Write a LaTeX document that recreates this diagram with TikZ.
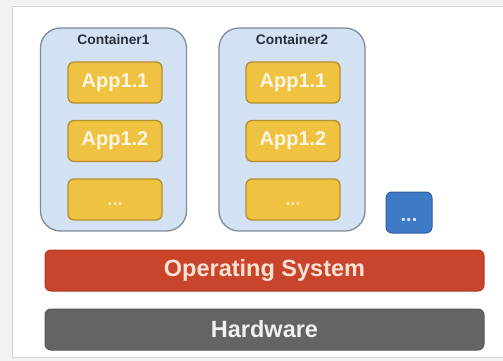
\documentclass[tikz,border=0pt]{standalone}
\usepackage{fontspec}
\setmainfont{Liberation Sans}
\definecolor{bgout}{HTML}{F2F2F2}
\definecolor{frameline}{HTML}{D4D4D4}
\definecolor{contfill}{HTML}{D3E2F3}
\definecolor{contline}{HTML}{7E8C9B}
\definecolor{conttext}{HTML}{26303C}
\definecolor{appfill}{HTML}{F0C242}
\definecolor{appline}{HTML}{B48E2E}
\definecolor{apptext}{HTML}{FDF6E4}
\definecolor{dottext}{HTML}{F8E7B0}
\definecolor{osfill}{HTML}{C8442A}
\definecolor{osline}{HTML}{B03A24}
\definecolor{ostext}{HTML}{FBE2D4}
\definecolor{hwfill}{HTML}{646464}
\definecolor{hwline}{HTML}{575757}
\definecolor{hwtext}{HTML}{F0F0F0}
\definecolor{bluefill}{HTML}{3F7AC6}
\definecolor{blueline}{HTML}{2E5E9E}
\definecolor{bluetext}{HTML}{DCE8F7}
\begin{document}
\begin{tikzpicture}[x=1pt,y=-1pt,
  contbox/.style={draw=contline,fill=contfill,line width=1.3pt,rounded corners=20pt,
    minimum width=146pt,minimum height=203pt,inner sep=0pt},
  conttitle/.style={font=\bfseries\fontsize{13.8}{16}\selectfont,text=conttext,inner sep=0pt},
  appbox/.style={draw=appline,fill=appfill,line width=1.3pt,rounded corners=6pt,
    minimum width=94pt,minimum height=41pt,inner sep=0pt,text=apptext,
    font=\bfseries\fontsize{20}{24}\selectfont},
  barbox/.style={rounded corners=6pt,line width=1pt,minimum width=439pt,minimum height=41pt,
    inner sep=0pt,font=\bfseries\fontsize{23.5}{28}\selectfont},
  bluebox/.style={draw=blueline,fill=bluefill,line width=1pt,rounded corners=6pt,
    minimum width=46pt,minimum height=41pt,inner sep=0pt,text=bluetext,
    font=\bfseries\fontsize{20}{24}\selectfont}]
\useasboundingbox (0,0) rectangle (503,361);
\fill[bgout] (0,0) rectangle (503,361);
\draw[frameline,fill=white,line width=1pt] (12,7) rectangle (540,357);
% containers
\node[contbox] (c1) at (113.5,129.5) {};
\node[conttitle] (t1) at (113.5,40) {Container1};
\node[appbox] (a11) at (115,82.5) {App1.1};
\node[appbox] (a12) at (115,141) {App1.2};
\node[appbox] (a13) at (115,199.5) {\smash{\raisebox{-6pt}{\fontsize{18}{20}\selectfont\color{dottext}...}}};
\node[contbox] (c2) at (292,129.5) {};
\node[conttitle] (t2) at (292,40) {Container2};
\node[appbox] (a21) at (293,82.5) {App1.1};
\node[appbox] (a22) at (293,141) {App1.2};
\node[appbox] (a23) at (293,199.5) {\smash{\raisebox{-6pt}{\fontsize{18}{20}\selectfont\color{dottext}...}}};
% extra
\node[bluebox] (more) at (409,212.5) {\smash{\raisebox{-8.5pt}{\fontsize{20}{22}\selectfont...}}};
% bars
\node[barbox,draw=osline,fill=osfill,text=ostext] (os) at (264.5,270.5) {Operating System};
\node[barbox,draw=hwline,fill=hwfill,text=hwtext] (hw) at (264.5,329.5) {Hardware};
\end{tikzpicture}
\end{document}
